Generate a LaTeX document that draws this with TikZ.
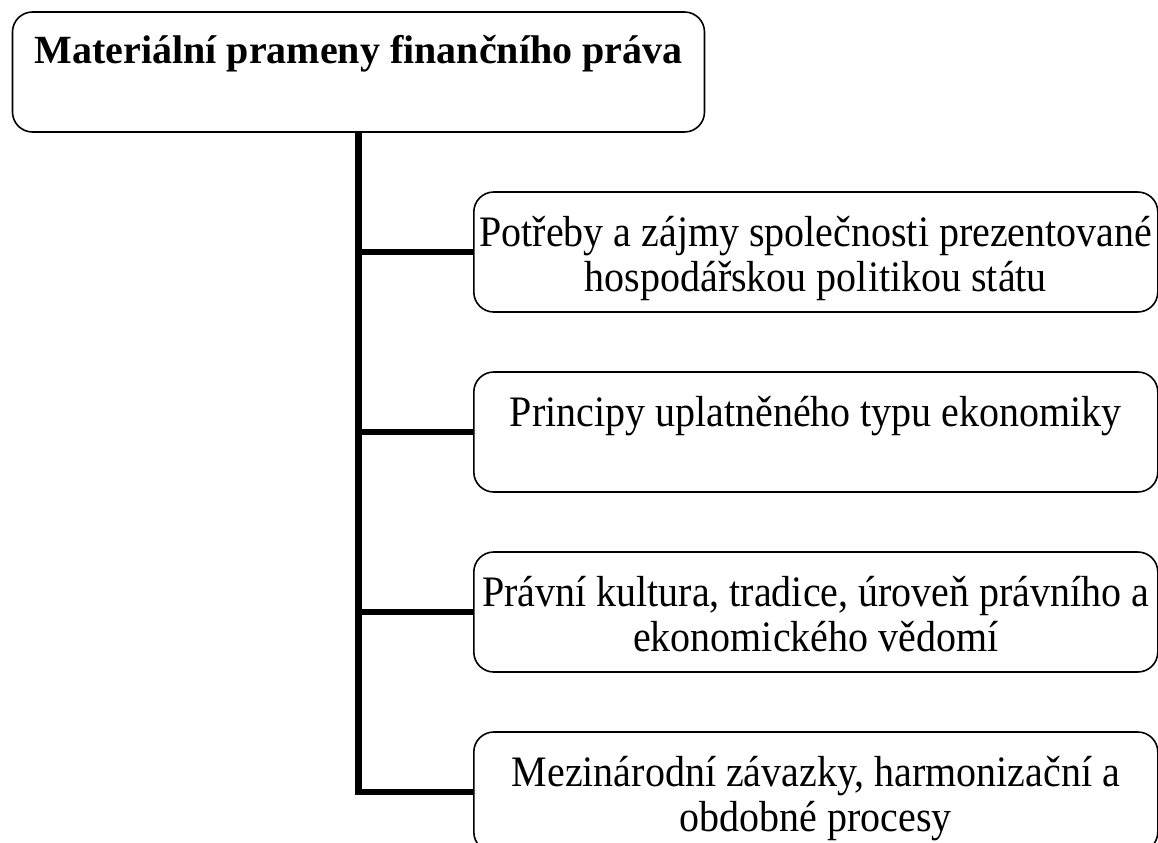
\documentclass[tikz,border=0pt]{standalone}
\usepackage{fontspec}
\setmainfont{Liberation Serif}
\newfontfamily\itemfont[FakeStretch=0.92]{Liberation Serif}
\usepackage{tikz}

\begin{document}
\begin{tikzpicture}
	 [x=0.75pt,y=-0.75pt,
	  every node/.style={draw,fill=white,rounded corners=15pt,line width=1.2pt,inner sep=0pt,font=\itemfont\fontsize{32.6}{33.75}\selectfont},
	  branch/.style={line width=5pt}]
	\useasboundingbox (0,0) rectangle (1158,843);

	\node (root)[font=\fontsize{30}{34.5}\selectfont\bfseries] at (358.5,72) {\parbox[c][90pt][t]{519pt}{\centering\rule{0pt}{38.5pt}Materiální prameny finančního práva}};

	\node (c1)[anchor=west] at (473,252) {\parbox[c][90pt][t]{513pt}{\centering\rule{0pt}{40.5pt}Potřeby a zájmy společnosti prezentované\\hospodářskou politikou státu}};
	\node (c2)[anchor=west] at (473,432) {\parbox[c][90pt][t]{513pt}{\centering\rule{0pt}{40.5pt}Principy uplatněného typu ekonomiky}};
	\node (c3)[anchor=west] at (473,612) {\parbox[c][90pt][t]{513pt}{\centering\rule{0pt}{40.5pt}Právní kultura, tradice, úroveň právního a\\ekonomického vědomí}};
	\node (c4)[anchor=west] at (473,792) {\parbox[c][90pt][t]{513pt}{\centering\rule{0pt}{40.5pt}Mezinárodní závazky, harmonizační a\\obdobné procesy}};

	\draw[branch] (root.south) |- (c4.west);
	\foreach \to in {c1,c2,c3}
    \draw[branch] (root.south |- \to.west) -- (\to.west);

\end{tikzpicture}
\end{document}
